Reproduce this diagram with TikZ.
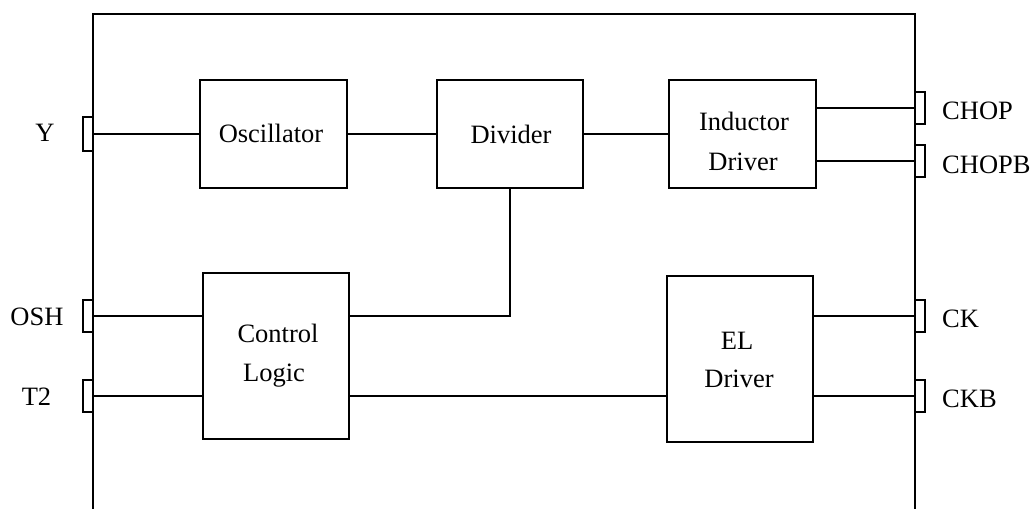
\documentclass[tikz,border=0pt]{standalone}
\usepackage{fontspec}
\setmainfont{Liberation Serif}
\begin{document}
\begin{tikzpicture}[x=1pt,y=-1pt,
  every node/.style={font=\fontsize{26.5}{39}\selectfont},
  blk/.style={draw,line width=2pt,rectangle,inner sep=0pt,fill=white},
  pinbox/.style={draw,line width=2pt,rectangle,inner sep=0pt,minimum width=10pt,minimum height=32pt,fill=white},
  lbl/.style={inner sep=0pt,anchor=base},
  lblw/.style={inner sep=0pt,anchor=base west},
  wire/.style={line width=2pt}]
\useasboundingbox (0,0) rectangle (1032,508);
% outer frame (open at bottom)
\draw[wire] (93,510) -- (93,14) -- (915,14) -- (915,510);
% blocks
\node[blk,minimum width=147pt,minimum height=108pt] (osc) at (273.5,134) {};
\node[blk,minimum width=146pt,minimum height=108pt] (div) at (510,134) {};
\node[blk,minimum width=147pt,minimum height=108pt] (ind) at (742.5,134) {};
\node[blk,minimum width=146pt,minimum height=166pt] (cl) at (276,356) {};
\node[blk,minimum width=146pt,minimum height=166pt] (el) at (740,359) {};
% pins
\node[pinbox,minimum height=34pt] (ypin) at (88,134) {};
\node[pinbox] (oshpin) at (88,316) {};
\node[pinbox] (t2pin) at (88,396) {};
\node[pinbox] (choppin) at (920,108) {};
\node[pinbox] (chopbpin) at (920,161) {};
\node[pinbox] (ckpin) at (920,316) {};
\node[pinbox] (ckbpin) at (920,396) {};
% block texts
\node[lbl] (osct) at (271,142) {Oscillator};
\node[lbl] (divt) at (511,143) {Divider};
\node[lbl] (indt1) at (744,131) {Inductor};
\node[lbl] (indt2) at (743,170) {Driver};
\node[lbl] (clt1) at (278,342) {Control};
\node[lbl] (clt2) at (274,381) {Logic};
\node[lbl] (elt1) at (737,349) {EL};
\node[lbl] (elt2) at (739,387) {Driver};
% pin labels
\node[lbl] (yl) at (45,141) {Y};
\node[lbl] (oshl) at (37,325) {OSH};
\node[lbl] (t2l) at (36.5,405) {T2};
\node[lblw] (chopl) at (942,119) {CHOP};
\node[lblw] (chopbl) at (942,173) {CHOPB};
\node[lblw] (ckl) at (942,327) {CK};
\node[lblw] (ckbl) at (942,407) {CKB};
% connectors
\draw[wire] (ypin.east) -- (osc.west);
\draw[wire] (osc.east) -- (div.west);
\draw[wire] (div.east) -- (ind.west);
\draw[wire] (choppin.west -| ind.east) -- (choppin.west);
\draw[wire] (chopbpin.west -| ind.east) -- (chopbpin.west);
\draw[wire] (oshpin.east) -- (oshpin.east -| cl.west);
\draw[wire] (t2pin.east) -- (t2pin.east -| cl.west);
\draw[wire] (oshpin.east -| cl.east) -| (div.south);
\draw[wire] (t2pin.east -| cl.east) -- (t2pin.east -| el.west);
\draw[wire] (ckpin.west -| el.east) -- (ckpin.west);
\draw[wire] (ckbpin.west -| el.east) -- (ckbpin.west);
\end{tikzpicture}
\end{document}
